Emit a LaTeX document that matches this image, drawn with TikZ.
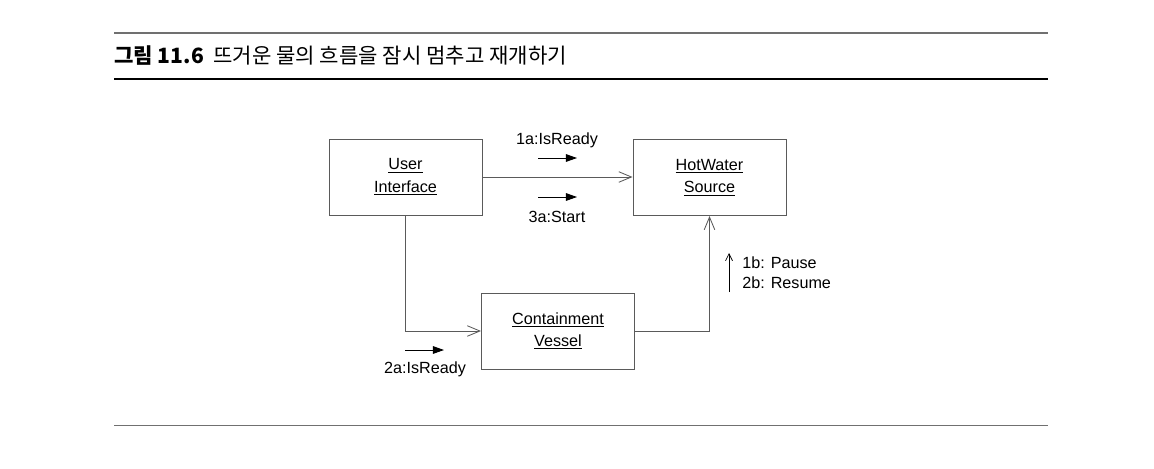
\documentclass[tikz,border=0pt]{standalone}
\usepackage{fontspec}
\setmainfont{Liberation Sans}
\newfontfamily\krfont{Noto Sans CJK KR}
\usepackage{xcolor}
\usepackage{tikz}
\usetikzlibrary{arrows.meta}
\definecolor{linegray}{HTML}{5A5A5A}
\definecolor{rulegray}{HTML}{707070}

\begin{document}
\begin{tikzpicture}[x=0.025cm, y=-0.025cm,
		obj/.style={draw=linegray, line width=0.7pt, minimum width=153*0.025cm,
			minimum height=76*0.025cm, align=center, font=\fontsize{11.5}{16}\selectfont},
		link/.style={draw=linegray, line width=0.7pt,
			-{Straight Barb[length=9pt, width=7.5pt, line width=0.6pt]}},
		flow/.style={black, line width=0.6pt, -{Triangle[length=8pt, width=5.5pt]}},
		msg/.style={inner sep=0pt, font=\fontsize{11.5}{14.5}\selectfont}]
		\useasboundingbox (0,0) rectangle (1154,468);
		% Title rules
		\draw[rulegray, line width=0.8pt] (114,33) -- (1048,33);
		\draw[black, line width=2pt] (114,79) -- (1048,79);
		\draw[rulegray, line width=1pt] (114,425.5) -- (1048,425.5);
		\node[anchor=base west, inner sep=0pt, font=\krfont\fontsize{15}{17}\selectfont]
			(title) at (114,63) {{\bfseries 그림 11.6}\ \ 뜨거운 물의 흐름을 잠시 멈추고 재개하기};
		% Objects
		\node[obj] (ui) at (405.5,177) {\underline{User}\\\underline{Interface}};
		\node[obj] (hws) at (709.5,177.5) {\underline{HotWater}\\\underline{Source}};
		\node[obj] (cv) at (558,331) {\underline{Containment}\\\underline{Vessel}};
		% Links
		\draw[link] (ui.east) -- (hws.west |- ui.east);
		\draw[link] (ui.south) |- (cv.west);
		\draw[link] (cv.east) -| (hws.south);
		% Messages
		\coordinate (m1s) at (538,158);
		\coordinate (m1e) at (577,158);
		\coordinate (m3s) at (538,197);
		\coordinate (m3e) at (577,197);
		\coordinate (m2s) at (405,350);
		\coordinate (m2e) at (444,350);
		\coordinate (pbs) at (729,292);
		\coordinate (pbe) at (729,253);
		\node[msg] (isready1) at (557,140) {1a:IsReady};
		\draw[flow] (m1s) -- (m1e);
		\node[msg] (start) at (557,217) {3a:Start};
		\draw[flow] (m3s) -- (m3e);
		\node[msg] (isready2) at (425,369) {2a:IsReady};
		\draw[flow] (m2s) -- (m2e);
		\draw[black, line width=0.5pt, -{Straight Barb[length=5pt, width=5pt, line width=0.5pt]}]
			(pbs) -- (pbe);
		\node[msg, anchor=west, align=left] (pause) at (742,273) {1b: Pause\\2b: Resume};
	\end{tikzpicture}
\end{document}
